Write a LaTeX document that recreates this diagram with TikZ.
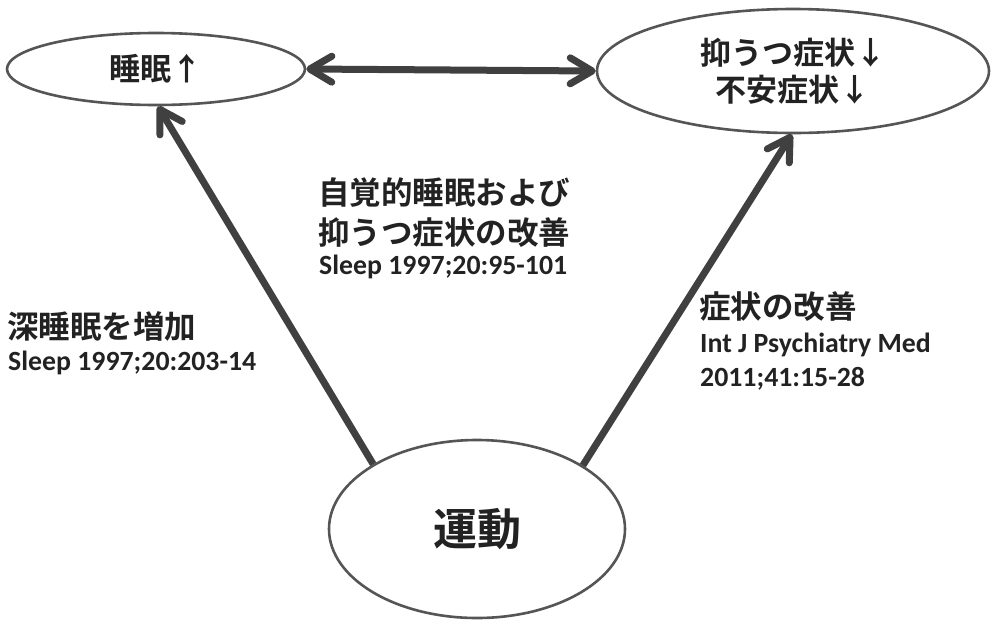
\documentclass[tikz,border=0pt]{standalone}
\usepackage{fontspec}
\usetikzlibrary{arrows.meta,shapes.geometric}
\newfontfamily\jp{Noto Sans CJK JP}[BoldFont=* Bold]
\newfontfamily\en{Carlito}
\definecolor{arrcol}{HTML}{404040}
\definecolor{elcol}{HTML}{555555}
\definecolor{txtcol}{HTML}{222222}
\tikzset{
  ell/.style={ellipse, draw=elcol, line width=2.6pt, fill=white, inner sep=0pt, text=txtcol},
  arr/.style={draw=arrcol, line width=7pt, -{Straight Barb[length=22pt,width=26pt,round]}},
  jtxt/.style={inner sep=0pt, anchor=west, text=txtcol, font=\jp\bfseries\fontsize{31.5}{36}\selectfont},
  etxt/.style={inner sep=0pt, anchor=west, text=txtcol, font=\en\bfseries\fontsize{27.8}{32}\selectfont},
}
\begin{document}
\begin{tikzpicture}[x=1pt,y=-1pt]
\useasboundingbox (0,0) rectangle (992,619);
\node[ell, minimum width=298pt, minimum height=72pt, font=\jp\bfseries\fontsize{31}{36}\selectfont] (sleep) at (156,69) {睡眠↑};
\node[ell, minimum width=392pt, minimum height=124pt, align=center, font=\jp\bfseries\fontsize{31}{37}\selectfont] (mood) at (793,71) {抑うつ症状↓\\不安症状↓};
\node[ell, minimum width=296pt, minimum height=178pt, font=\jp\bfseries\fontsize{44}{50}\selectfont] (ex) at (477,529) {運動};
\draw[arr] (ex.148.6) -- (sleep.273);
\draw[arr] (ex.31.5) -- (mood.269);
\draw[arr, {Straight Barb[length=22pt,width=26pt,round]}-{Straight Barb[length=22pt,width=26pt,round]}] (sleep.east) -- (mood.west);
\node[jtxt] (m1) at (318,193) {自覚的睡眠および};
\node[jtxt] (m2) at (318,233) {抑うつ症状の改善};
\node[etxt] (m3) at (319,267) {Sleep 1997;20:95-101};
\node[jtxt] (l1) at (7,326) {深睡眠を増加};
\node[etxt] (l2) at (8,363) {Sleep 1997;20:203-14};
\node[jtxt] (r1) at (699,307) {症状の改善};
\node[etxt] (r2) at (700,345) {Int J Psychiatry Med};
\node[etxt] (r3) at (700,379) {2011;41:15-28};
\end{tikzpicture}
\end{document}
